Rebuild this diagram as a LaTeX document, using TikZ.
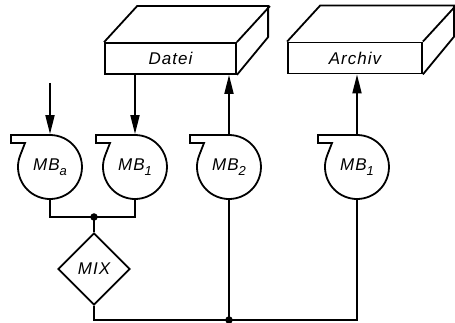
\documentclass[tikz,border=0pt]{standalone}
\usepackage{fontspec}
\setmainfont{Liberation Sans}[LetterSpace=6]
\usetikzlibrary{arrows.meta,shapes.geometric}
\newcommand\mbsub[1]{MB\raisebox{-0.55ex}{\fontsize{13}{13}\selectfont #1}}
\tikzset{
  lbl/.style={font=\fontsize{17}{20}\selectfont\itshape},
  tapesym/.pic={\draw (0,32) -- (-39,32) -- (-39,24) -- (-25,24) -- (158:32) arc[start angle=158,end angle=450,radius=32];},
  tapenode/.style={circle, minimum size=64pt, inner sep=0pt, lbl},
  filebox/.style={draw, inner sep=0pt, lbl},
  mixbox/.style={diamond, draw, minimum width=72pt, minimum height=72pt, inner sep=0pt, lbl},
  dot/.style={circle, fill, inner sep=0pt, minimum size=7.5pt},
  arr/.style={-{Triangle[length=19pt,width=9pt]}},
}
\begin{document}
\begin{tikzpicture}[x=1pt,y=1pt,line width=1.8pt]
\useasboundingbox (0,0) rectangle (455,323);
% files
\node[filebox, minimum width=131pt, minimum height=31pt] (datei) at (170.5,264.5) {Datei};
\draw (datei.north west) -- ++(33,36) -- ++(131,0) -- ++(0,-31) -- (datei.south east);
\draw (datei.north east) -- ++(33,36);
\node[filebox, minimum width=134pt, minimum height=31pt] (archiv) at (355,265) {Archiv};
\draw (archiv.north west) -- ++(33,36) -- ++(134,0) -- ++(0,-31) -- (archiv.south east);
\draw (archiv.north east) -- ++(33,36);
% tapes
\pic at (50,156) {tapesym};
\node[tapenode] (ma) at (50,156) {\mbsub{a}};
\pic at (135,156) {tapesym};
\node[tapenode] (mb) at (135,156) {\mbsub{1}};
\pic at (229,156) {tapesym};
\node[tapenode] (mc) at (229,156) {\mbsub{2}};
\pic at (357,156) {tapesym};
\node[tapenode] (md) at (357,156) {\mbsub{1}};
% mix
\node[mixbox] (mix) at (94,54) {MIX};
\node[dot] (j1) at (94,106) {};
\node[dot] (j2) at (229,3) {};
\coordinate (in) at (50,240);
% connectors
\draw[arr] (in) -- (ma.north);
\draw[arr] (mb.north |- datei.south) -- (mb.north);
\draw[arr] (mc.north) -- (mc.north |- datei.south);
\draw[arr] (md.north) -- (md.north |- archiv.south);
\draw (ma.south) -- (ma.south |- j1.center) -- (mb.south |- j1.center) -- (mb.south);
\draw (j1.center) -- (mix.north);
\draw (mix.south) -- (mix.south |- j2.center) -- (md.south |- j2.center) -- (md.south);
\draw (mc.south) -- (j2.center);
\end{tikzpicture}
\end{document}
